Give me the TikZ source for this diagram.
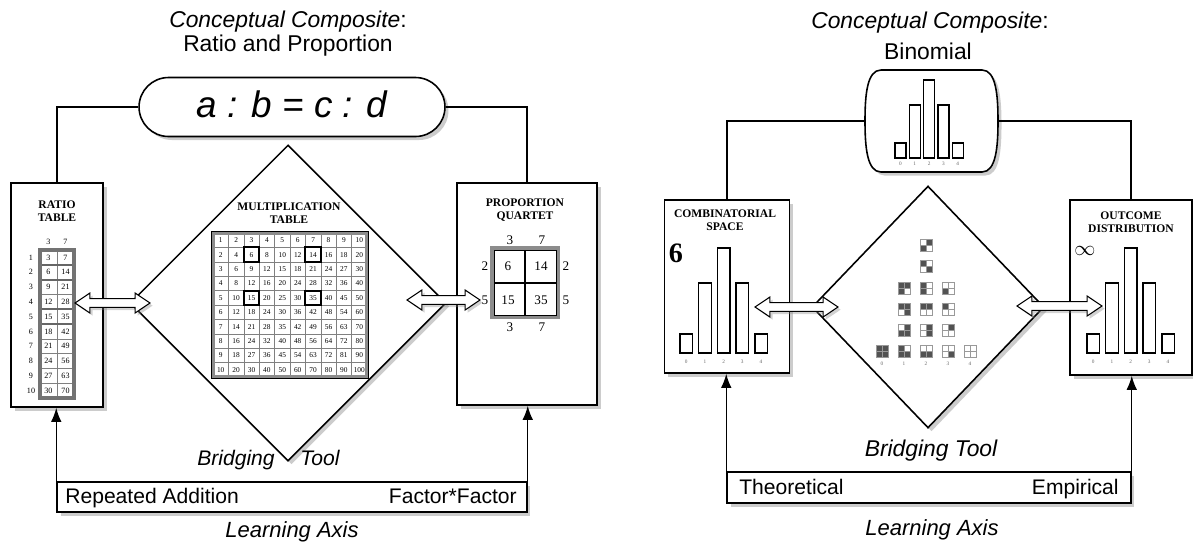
\documentclass[tikz,border=0pt]{standalone}
\usepackage{fontspec}
\setmainfont{Liberation Sans}
\newfontfamily\tabfont{Liberation Serif}
\usetikzlibrary{arrows.meta,shapes.geometric,shadows,calc}
\colorlet{dk}{black!68}

% hollow two-headed arrow between two named points
\newcommand{\bridgearrow}[2]{%
  \draw[hollow] let \p1=(#1), \p2=(#2) in
    (\x1,\y1) -- (\x1+8.5pt,\y1+5.7pt) -- (\x1+8.5pt,\y1+2.5pt) -- (\x2-8.5pt,\y2+2.5pt)
    -- (\x2-8.5pt,\y2+5.7pt) -- (\x2,\y2) -- (\x2-8.5pt,\y2-5.7pt) -- (\x2-8.5pt,\y2-2.5pt)
    -- (\x1+8.5pt,\y1-2.5pt) -- (\x1+8.5pt,\y1-5.7pt) -- cycle;}

\begin{document}
\begin{tikzpicture}[x=0.02cm, y=-0.02cm,
    box/.style={draw, line width=0.9pt, fill=white, inner sep=0pt,
      drop shadow={shadow xshift=2pt, shadow yshift=-2pt, opacity=0.4}},
    dia/.style={box, diamond, aspect=1},
    link/.style={line width=0.8pt},
    up/.style={link, -{Latex[length=8pt,width=6pt]}},
    hollow/.style={draw, line width=0.6pt, fill=white,
      drop shadow={shadow xshift=1.5pt, shadow yshift=-1.5pt, opacity=0.35}},
    head/.style={font=\tabfont\bfseries\fontsize{6.6}{7.2}\selectfont, align=center, inner sep=0pt},
    num/.style={font=\tabfont\fontsize{4.6}{5}\selectfont, inner sep=0pt},
    qnum/.style={font=\tabfont\fontsize{7.5}{8}\selectfont, inner sep=0pt},
    bar/.style={draw, line width=0.8pt, fill=white},
    tick/.style={font=\tabfont\fontsize{3}{3}\selectfont, text=black!60, inner sep=0pt},
    ttl/.style={font=\fontsize{13}{15}\selectfont, inner sep=0pt},
    txt/.style={font=\fontsize{12}{14}\selectfont, inner sep=0pt},
    itx/.style={font=\fontsize{12.5}{14}\selectfont\itshape, inner sep=0pt}]
\useasboundingbox (0,0) rectangle (1193,542);

% ---------- left: ratio and proportion ----------
\node[ttl] (lttl) at (288,22) {\textit{Conceptual Composite}:};
\node[ttl] (lsub) at (288,46) {Ratio and Proportion};

\node[box, minimum width=6.12cm, minimum height=1.18cm, rounded corners=0.59cm] (lcap) at (292,107) {};
\node[font=\fontsize{21}{21}\selectfont\itshape, inner sep=0pt] (lform) at (292,104) {a : b = c : d};

\node[box, minimum width=1.84cm, minimum height=4.48cm] (ratio) at (57,295) {};
\node[box, minimum width=2.8cm, minimum height=4.44cm] (prop) at (527,294) {};
\node[dia, minimum width=6.32cm, minimum height=6.32cm] (ldia) at (288,303) {};
\node[box, minimum width=9.4cm, minimum height=0.6cm] (laxis) at (292,497) {};

\draw[link] (lcap.west) -| (ratio.north);
\draw[link] (lcap.east) -| (prop.north);
\draw[up] (laxis.north west) -- (laxis.north west |- ratio.south);
\draw[up] (laxis.north east) -- (laxis.north east |- prop.south);

\node[txt, anchor=base west] (ladd) at (65,503) {Repeated Addition};
\node[txt, anchor=base east] (lfac) at (517,503) {Factor*Factor};
\node[itx, anchor=base] (llax) at (292,537) {Learning Axis};
\node[itx, font=\fontsize{12}{14}\selectfont\itshape, anchor=base east] (lbr1) at (275,465) {Bridging};
\node[itx, font=\fontsize{12}{14}\selectfont\itshape, anchor=base west] (lbr2) at (300,465) {Tool};

% ratio table
\node[head] (rhd) at (57,211) {RATIO\\TABLE};
\node[num] (rc1) at (48.5,242) {3};
\node[num] (rc2) at (65.5,242) {7};
\foreach \r in {1,...,10}{
  \pgfmathtruncatemacro\va{3*\r}
  \pgfmathtruncatemacro\vb{7*\r}
  \node[num] (rl\r) at (31,250+14.8*\r-7.4) {\r};
  \node[num] (ra\r) at (48.5,250+14.8*\r-7.4) {\va};
  \node[num] (rb\r) at (65.5,250+14.8*\r-7.4) {\vb};
  \draw[line width=0.3pt, gray] (40,250+14.8*\r) -- (74,250+14.8*\r);
}
\draw[line width=0.3pt, gray] (57,250) -- (57,398);
\foreach \k in {1,2,4,5}
  \draw[line width=1.1pt, black!60] (40,250+14.8*\k) -- (74,250+14.8*\k);
\draw[line width=1.8pt, black!55] (40,250) rectangle (74,398);

% multiplication table
\node[head] (mhd) at (289,213) {MULTIPLICATION\\TABLE};
\foreach \r in {1,...,10}{
  \foreach \c in {1,...,10}{
    \pgfmathtruncatemacro\v{\r*\c}
    \node[num, font=\tabfont\fontsize{4.2}{5}\selectfont] (m\r-\c) at (213+15.4*\c-7.7,233+14.4*\r-7.2) {\v};
  }
}
\foreach \k in {1,...,9}{
  \draw[line width=0.3pt, gray] (213+15.4*\k,233) -- (213+15.4*\k,377);
  \draw[line width=0.3pt, gray] (213,233+14.4*\k) -- (367,233+14.4*\k);
}
\foreach \r/\c in {2/3,2/7,5/3,5/7}
  \draw[line width=1.2pt] (213+15.4*\c-15.4,233+14.4*\r-14.4) rectangle ++(15.4,14.4);
\draw[line width=2.4pt, black!45] (213,233) rectangle (367,377);
\draw[line width=0.4pt] (211.5,231.5) rectangle (368.5,378.5);

% proportion quartet
\node[head] (phd) at (525,210) {PROPORTION\\QUARTET};
\draw[line width=2.6pt, black!45] (492,248) rectangle (558,317);
\draw[line width=0.5pt] (494,250) rectangle (556,315);
\draw[line width=1.3pt] (525,250) -- (525,315) (494,283) -- (556,283);
\node[qnum] (q1) at (508,266) {6};
\node[qnum] (q2) at (541,266) {14};
\node[qnum] (q3) at (508,300) {15};
\node[qnum] (q4) at (541,300) {35};
\node[qnum] (pt1) at (510,240) {3};
\node[qnum] (pt2) at (542,240) {7};
\node[qnum] (pb1) at (510,327) {3};
\node[qnum] (pb2) at (542,327) {7};
\node[qnum] (pl1) at (485,266) {2};
\node[qnum] (pl2) at (485,300) {5};
\node[qnum] (pr1) at (566,266) {2};
\node[qnum] (pr2) at (566,300) {5};

\coordinate (la1) at (75,303);
\coordinate (la2) at (150,303);
\coordinate (lb1) at (407,300);
\coordinate (lb2) at (480,300);
\bridgearrow{la1}{la2}
\bridgearrow{lb1}{lb2}

% ---------- right: binomial ----------
\node[ttl] (rttl) at (930,23) {\textit{Conceptual Composite}:};
\node[ttl] (rsub) at (928,51) {Binomial};

\node[minimum width=2.66cm, minimum height=2.04cm] (rcap) at (931.5,121) {};
\draw[box] (881,70) -- (982,70) .. controls (996,70) and (998,95) .. (998,121)
  .. controls (998,147) and (996,172) .. (982,172) -- (881,172)
  .. controls (867,172) and (865,147) .. (865,121)
  .. controls (865,95) and (867,70) .. (881,70) -- cycle;

\node[box, minimum width=2.5cm, minimum height=3.46cm] (comb) at (727,286.5) {};
\node[box, minimum width=2.44cm, minimum height=3.5cm] (outc) at (1131,287.5) {};
\node[dia, minimum width=4.64cm, minimum height=4.84cm] (rdia) at (928,307) {};
\node[box, minimum width=8.08cm, minimum height=0.62cm] (raxis) at (929,487.5) {};

\draw[link] (rcap.west) -| (comb.north);
\draw[link] (rcap.east) -| (outc.north);
\draw[up] (raxis.north west) -- (raxis.north west |- comb.south);
\draw[up] (raxis.north east) -- (raxis.north east |- outc.south);

\node[txt, anchor=base west] (rtheo) at (739,494) {Theoretical};
\node[txt, anchor=base east] (remp) at (1119,494) {Empirical};
\node[itx, anchor=base] (rlax) at (932,535) {Learning Axis};
\node[itx, font=\fontsize{13}{15}\selectfont\itshape, anchor=base] (rbrd) at (931,456) {Bridging Tool};

% distribution in the capsule
\foreach \i/\h in {0/15,1/53,2/78,3/53,4/15}{
  \draw[bar, line width=0.7pt] (895+14.3*\i,158) rectangle ++(11,-\h);
  \node[tick] (kt\i) at (900.5+14.3*\i,164) {\i};
}

% combinatorial space
\node[head] (chd) at (725,220) {COMBINATORIAL\\SPACE};
\node[font=\tabfont\bfseries\fontsize{16}{16}\selectfont, inner sep=0pt] (csix) at (676,253) {6};
\foreach \i/\h in {0/19,1/70,2/105,3/70,4/19}{
  \draw[bar] (680+18.7*\i,353) rectangle ++(12.5,-\h);
  \node[tick] (ct\i) at (686.2+18.7*\i,362) {\i};
}

% outcome distribution
\node[head] (ohd) at (1131,222) {OUTCOME\\DISTRIBUTION};
\node[font=\fontsize{13}{13}\selectfont, inner sep=0pt] (oinf) at (1085,251) {$\infty$};
\foreach \i/\h in {0/19,1/70,2/105,3/70,4/19}{
  \draw[bar] (1087+18.7*\i,353) rectangle ++(12.5,-\h);
  \node[tick] (ot\i) at (1093.2+18.7*\i,362) {\i};
}

% 2x2 tiles in the bridging tool
\foreach \x/\y/\p/\q/\r/\s in {
    882/351/dk/dk/dk/dk,
    904/351/dk/white/dk/dk, 904/330/white/dk/dk/dk, 904/309/dk/dk/white/dk, 904/288/dk/dk/dk/white,
    926/351/white/white/dk/dk, 926/330/white/dk/white/dk, 926/309/dk/dk/white/white,
    926/288/dk/white/dk/white, 926/266/dk/white/white/dk, 926/245/white/dk/dk/white,
    948/351/white/white/white/dk, 948/330/white/dk/white/white, 948/309/dk/white/white/white,
    948/288/white/white/dk/white,
    970/351/white/white/white/white}{
  \fill[\p] (\x-6,\y-6) rectangle (\x,\y);
  \fill[\q] (\x,\y-6) rectangle (\x+6,\y);
  \fill[\r] (\x-6,\y) rectangle (\x,\y+6);
  \fill[\s] (\x,\y) rectangle (\x+6,\y+6);
  \draw[line width=0.3pt, black!40] (\x-6,\y-6) rectangle (\x+6,\y+6) (\x,\y-6) -- (\x,\y+6) (\x-6,\y) -- (\x+6,\y);
}
\foreach \i in {0,...,4}
  \node[tick] (tt\i) at (882+22*\i,364) {\i};

\coordinate (ra1) at (755,307);
\coordinate (ra2) at (838,307);
\coordinate (rb1) at (1017,306);
\coordinate (rb2) at (1102,306);
\bridgearrow{ra1}{ra2}
\bridgearrow{rb1}{rb2}
\end{tikzpicture}
\end{document}
